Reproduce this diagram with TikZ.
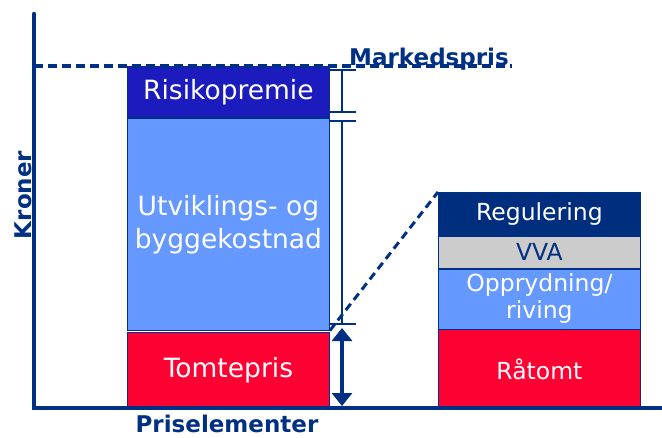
\documentclass[tikz,border=0pt]{standalone}
\usepackage{fontspec}
\setmainfont{DejaVu Sans}
\usetikzlibrary{arrows.meta}
\usetikzlibrary{positioning}
\definecolor{NavyLine}{HTML}{003083}
\definecolor{RiskBlue}{HTML}{1C1CBE}
\definecolor{LightBlue}{HTML}{6699FF}
\definecolor{TomtRed}{HTML}{FF0033}
\definecolor{RegNavy}{HTML}{002E7E}
\definecolor{VvaGrey}{HTML}{CCCCCC}

\tikzset{
  block/.style={draw=NavyLine, line width=0.8pt, minimum width=202pt, inner sep=0pt, align=center, text=white},
  leftbar/.style={block, font=\fontsize{26.5}{33}\selectfont},
  rightbar/.style={block, font=\fontsize{23.5}{27}\selectfont},
  axislabel/.style={text=NavyLine, font=\bfseries\fontsize{23}{26}\selectfont, inner sep=0pt},
  tick/.style={NavyLine, line width=1.6pt},
}

\begin{document}
\begin{tikzpicture}[x=1pt, y=-1pt]

\useasboundingbox (0,0) rectangle (662,437);

% Left bar
\node[leftbar, fill=RiskBlue, minimum height=51pt, anchor=north west] (risk) at (127,66) {Risikopremie};
\node[leftbar, fill=LightBlue, minimum height=212pt, below=0pt of risk] (utv) {Utviklings- og\\byggekostnad};
\node[leftbar, fill=TomtRed, minimum height=76pt, below=1pt of utv] (tomt) {Tomtepris};

% Right bar
\node[rightbar, fill=RegNavy, minimum height=43pt, anchor=north west] (reg) at (438,192) {Regulering};
\node[rightbar, fill=VvaGrey, text=NavyLine, minimum height=32pt, below=0pt of reg] (vva) {VVA};
\node[rightbar, fill=LightBlue, minimum height=60pt, below=0pt of vva] (opp) {Opprydning/\\riving};
\node[rightbar, fill=TomtRed, minimum height=79pt, below=0pt of opp] (raa) {Råtomt};

% Axes
\coordinate (origin) at (34,408);
\coordinate (ytop) at (34,14);
\coordinate (xend) at (662,408);
\draw[NavyLine, line width=4.5pt, line cap=round] (ytop) -- (origin) -- (xend);

% Market price line
\coordinate (mpL) at (34,66);
\coordinate (mpR) at (512,66);
\draw[NavyLine, line width=4.5pt, dash pattern=on 9pt off 5pt] (mpL) -- (mpR);

% Dashed link between the bars
\draw[NavyLine, line width=3pt, dash pattern=on 8pt off 5pt] (utv.south east) -- (reg.north west);

% Bracket
\def \xBr {342}
\coordinate (brA) at (\xBr,70);
\coordinate (brB) at (\xBr,112);
\coordinate (brC) at (\xBr,121);
\coordinate (brD) at (\xBr,324);
\foreach \c in {brA,brB,brC,brD}
  \draw[tick] ([xshift=-13.5pt]\c) -- ([xshift=13.5pt]\c);
\draw[tick] (brA) -- (brB);
\draw[tick] (brC) -- (brD);

% Double arrow
\coordinate (arrTop) at (\xBr,328);
\coordinate (arrBot) at (\xBr,406);
\draw[NavyLine, line width=4pt, {Triangle[width=20pt,length=13pt]}-{Triangle[width=20pt,length=13pt]}] (arrTop) -- (arrBot);

% Labels
\node[axislabel, anchor=base] (marked) at (429,65) {Markedspris};
\node[axislabel, anchor=base] (prisel) at (227,432) {Priselementer};
\node[axislabel, anchor=base, rotate=90] (kroner) at (31,195) {Kroner};

\end{tikzpicture}
\end{document}
